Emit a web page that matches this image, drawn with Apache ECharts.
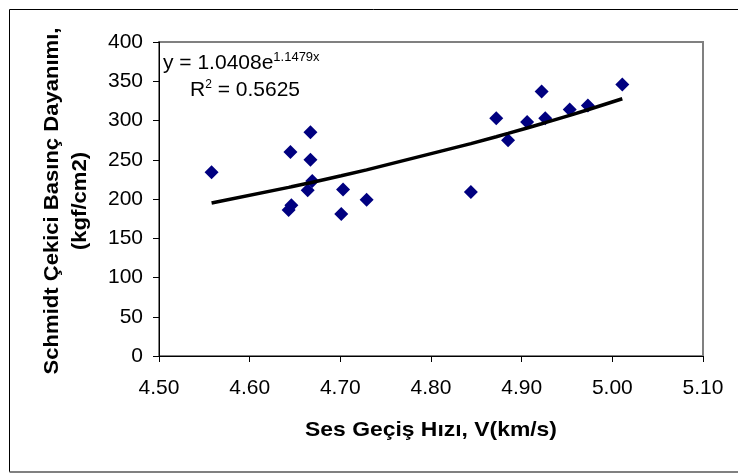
<!DOCTYPE html>
<html>
<head>
<meta charset="utf-8">
<script src="https://cdn.jsdelivr.net/npm/echarts@6/dist/echarts.min.js"></script>
<style>
  html, body { margin: 0; padding: 0; background: #fff; }
  #chart { width: 738px; height: 474px; }
</style>
</head>
<body>
<div id="chart"></div>
<script>
// Sound velocity (km/s) vs Schmidt hammer compressive strength (kgf/cm2)
const velocity = [4.558, 4.645, 4.667, 4.667, 4.669, 4.664, 4.646, 4.643, 4.703, 4.701,
                  4.729, 4.844, 4.872, 4.885, 4.906, 4.922, 4.926, 4.953, 4.973, 5.011];
const strength = [234, 260, 285, 250, 223, 211, 192, 186, 212, 181,
                  199, 209, 303, 275, 298, 337, 303, 314, 319, 346];

// Exponential trendline y = a * e^(b x)
const trendA = 1.0408;
const trendB = 1.1479;
const trendR2 = 0.5625;

const xTicks = { min: 4.5, max: 5.1, interval: 0.1 };
const yTicks = { min: 0, max: 400, interval: 50 };

const points = velocity.map((v, i) => [v, strength[i]]);
const trendX = velocity.slice().sort((a, b) => a - b);
const trend = trendX.map(v => [v, trendA * Math.exp(trendB * v)]);

const FONT = '"Liberation Sans", Arial, sans-serif';

const chart = echarts.init(document.getElementById('chart'), null, { renderer: 'canvas' });
chart.setOption({
  animation: false,
  backgroundColor: '#fff',
  grid: {
    left: 159, top: 42, right: 35, bottom: 118,
    show: true, borderColor: '#808080', borderWidth: 2, backgroundColor: 'transparent'
  },
  xAxis: {
    type: 'value',
    min: xTicks.min, max: xTicks.max, interval: xTicks.interval,
    axisLine: { show: true, onZero: false, lineStyle: { color: '#000', width: 1 } },
    axisTick: { show: true, inside: false, length: 6, lineStyle: { color: '#000' } },
    axisLabel: { margin: 22, color: '#000', fontSize: 21, fontFamily: FONT,
                 formatter: v => v.toFixed(2) },
    splitLine: { show: false }
  },
  yAxis: {
    type: 'value',
    min: yTicks.min, max: yTicks.max, interval: yTicks.interval,
    axisLine: { show: true, onZero: false, lineStyle: { color: '#000', width: 1 } },
    axisTick: { show: true, inside: false, length: 6, lineStyle: { color: '#000' } },
    axisLabel: { margin: 16, color: '#000', fontSize: 21, fontFamily: FONT },
    splitLine: { show: false }
  },
  series: [
    {
      type: 'scatter',
      data: points,
      symbol: 'diamond',
      symbolSize: 14,
      itemStyle: { color: '#000080', opacity: 1 },
      z: 2
    },
    {
      type: 'line',
      data: trend,
      showSymbol: false,
      symbol: 'none',
      lineStyle: { color: '#000', width: 3.5 },
      z: 3
    }
  ],
  graphic: [
    // outer frame
    { type: 'line', shape: { x1: 9.5, y1: 9.5, x2: 738, y2: 9.5 }, style: { stroke: '#000', lineWidth: 1 } },
    { type: 'line', shape: { x1: 9.5, y1: 9.5, x2: 9.5, y2: 472 }, style: { stroke: '#000', lineWidth: 1 } },
    { type: 'line', shape: { x1: 9.5, y1: 472, x2: 738, y2: 472 }, style: { stroke: '#808080', lineWidth: 2 } },
    // axis titles
    {
      type: 'text', x: 52, y: 201, rotation: Math.PI / 2, scaleX: 1.05,
      style: { text: 'Schmidt Çekici Basınç Dayanımı,', fill: '#000',
               font: 'bold 21px ' + FONT, textAlign: 'center', textVerticalAlign: 'middle' }
    },
    {
      type: 'text', x: 80, y: 201, rotation: Math.PI / 2, scaleX: 1.05,
      style: { text: '(kgf/cm2)', fill: '#000',
               font: 'bold 21px ' + FONT, textAlign: 'center', textVerticalAlign: 'middle' }
    },
    {
      type: 'text', x: 431, y: 430, scaleX: 1.09,
      style: { text: 'Ses Geçiş Hızı, V(km/s)', fill: '#000',
               font: 'bold 21px ' + FONT, textAlign: 'center', textVerticalAlign: 'middle' }
    },
    // trendline equation
    {
      type: 'text', x: 163, y: 51,
      style: {
        text: '{m|y = ' + trendA.toFixed(4) + 'e}{s|' + trendB.toFixed(4) + 'x}',
        rich: {
          m: { fontSize: 21, fontFamily: FONT, fill: '#000', verticalAlign: 'bottom' },
          s: { fontSize: 13, fontFamily: FONT, fill: '#000', verticalAlign: 'top', padding: [0, 0, 10, 0] }
        }
      }
    },
    {
      type: 'text', x: 190, y: 79,
      style: {
        text: '{m|R}{s|2}{m| = ' + trendR2.toFixed(4) + '}',
        rich: {
          m: { fontSize: 21, fontFamily: FONT, fill: '#000', verticalAlign: 'bottom' },
          s: { fontSize: 12, fontFamily: FONT, fill: '#000', verticalAlign: 'top', padding: [0, 0, 10, 0] }
        }
      }
    }
  ]
});
</script>
</body>
</html>
